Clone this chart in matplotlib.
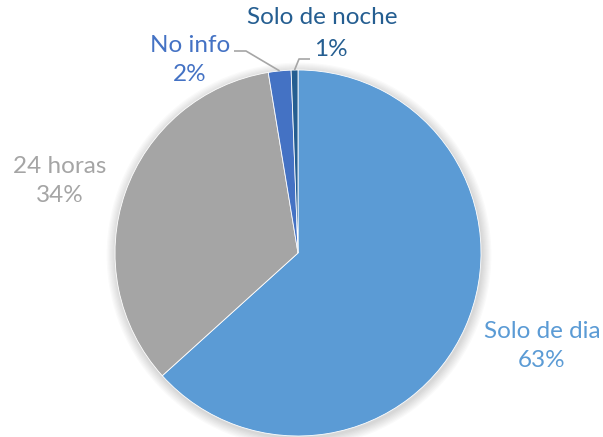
import numpy as np
import matplotlib
matplotlib.use("Agg")
import matplotlib.pyplot as plt
from matplotlib.patches import Circle

categories = ["Solo de dia", "24 horas", "No info", "Solo de noche"]
values = [63.3, 34.1, 2.0, 0.6]
pct_labels = ["63%", "34%", "2%", "1%"]
colors = ["#5B9BD5", "#A5A5A5", "#4472C4", "#255E91"]

plt.rcParams['font.family'] = ['Lato', 'DejaVu Sans']

W, H = 603, 437
fig = plt.figure(figsize=(W / 100, H / 100), dpi=100)
ax = fig.add_axes([0, 0, 1, 1])
ax.set_xlim(0, W)
ax.set_ylim(0, H)
ax.set_aspect('equal')
ax.axis('off')

cx, cy, r = 298, H - 253, 183

# soft shadow
for i in range(8):
    ax.add_patch(Circle((cx + 1, cy - 2), r + 1 + i * 1.2, color='black',
                        alpha=0.018, lw=0, zorder=0))

wedges, _ = ax.pie(values, colors=colors, startangle=90, counterclock=False,
                   center=(cx, cy), radius=r, frame=True,
                   wedgeprops=dict(linewidth=0.6, edgecolor='white'))
ax.set_xlim(0, W)
ax.set_ylim(0, H)
ax.axis('off')

# label positions (pixel layout, y from top)
label_pos = {
    "Solo de dia": (542, 346),
    "24 horas": (60, 181),
    "No info": (190, 60),
}
fs = 17.5
for w, cat, pct, col in zip(wedges, categories, pct_labels, colors):
    if cat == "Solo de noche":
        ax.text(322, H - 18, cat, ha='center', va='center', fontsize=fs, color=col)
        ax.text(331, H - 50, pct, ha='center', va='center', fontsize=fs, color=col)
    else:
        x, y = label_pos[cat]
        ax.text(x, H - y, f"{cat}\n{pct}", ha='center', va='center', fontsize=fs,
                color=col, linespacing=1.5)

# leader lines
def edge_point(w, rr):
    a = np.deg2rad((w.theta1 + w.theta2) / 2)
    return cx + rr * np.cos(a), cy + rr * np.sin(a)

ex, ey = edge_point(wedges[2], r)
ax.plot([234, 246, ex], [H - 51, H - 51, ey], color='#A6A6A6', lw=1.2,
        solid_capstyle='butt', zorder=5)
ex, ey = edge_point(wedges[3], r)
ax.plot([310, 299, ex], [H - 59, H - 59, ey], color='#A6A6A6', lw=1.2,
        solid_capstyle='butt', zorder=5)

fig.savefig("out.png", dpi=100)
